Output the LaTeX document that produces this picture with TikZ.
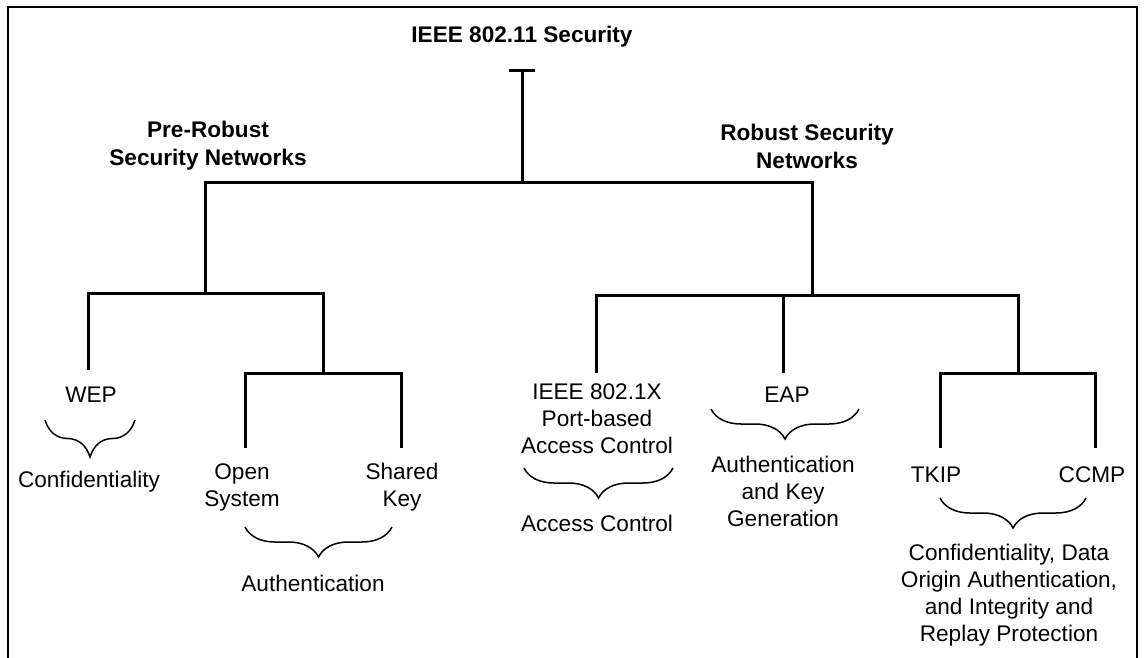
\documentclass[tikz,border=0pt]{standalone}
\usepackage{fontspec}
\setmainfont{Liberation Sans}
\usetikzlibrary{decorations.pathreplacing}
\begin{document}
\begin{tikzpicture}[x=0.5pt,y=-0.5pt,
    tree/.style={line width=1.5pt},
    brc/.style={decorate,decoration={brace,mirror,amplitude=#1},line width=0.75pt},
    brc/.default=15pt,
    lbl/.style={inner sep=0pt,align=center,font=\fontsize{11.3}{13.5}\selectfont},
    hdr/.style={lbl,font=\fontsize{11.3}{14}\selectfont\bfseries}]
      \useasboundingbox (0,0) rectangle (1145,658);
      \draw[line width=1pt] (8,658) -- (8,7) -- (1137,7) -- (1137,658);
      % headings
      \node[hdr] (title) at (522,37) {IEEE 802.11 Security};
      \node[hdr] (prersn) at (208,146) {Pre-Robust\\Security Networks};
      \node[hdr] (rsn) at (807,146) {Robust Security\\Networks};
      % leaves
      \node[lbl] (wep) at (91,395) {WEP};
      \node[lbl] (conf) at (89,482) {Confidentiality};
      \node[lbl] (open) at (242,487) {Open\\System};
      \node[lbl] (shared) at (402,487) {Shared\\Key};
      \node[lbl] (auth) at (313,583) {Authentication};
      \node[lbl] (dotx) at (597,419) {IEEE 802.1X\\Port-based\\Access Control};
      \node[lbl] (acc) at (597,523) {Access Control};
      \node[lbl] (eap) at (787,395) {EAP};
      \node[lbl] (akg) at (783,491) {Authentication\\and Key\\Generation};
      \node[lbl] (tkip) at (936,475) {TKIP};
      \node[lbl] (ccmp) at (1092,475) {CCMP};
      \node[lbl] (cia) at (1009,595) {Confidentiality, Data\\Origin Authentication,\\and Integrity and\\Replay Protection};
      % tree joints
      \coordinate (root) at (522,71);
      \coordinate (hub) at (522,182);
      \coordinate (preJ) at (205,293);
      \coordinate (rsnJ) at (812,295);
      \coordinate (wepT) at (88,370);
      \coordinate (authJ) at (323,373);
      \coordinate (openT) at (245,448);
      \coordinate (sharedT) at (401,448);
      \coordinate (dotT) at (596,373);
      \coordinate (eapT) at (783,373);
      \coordinate (cipJ) at (1018,373);
      \coordinate (tkipT) at (940,448);
      \coordinate (ccmpT) at (1095,448);
      \draw[tree] ([xshift=-6.5pt]root) -- ([xshift=6.5pt]root);
      \draw[tree] (root) -- (hub);
      \draw[tree] (preJ) |- (hub) -| (rsnJ);
      \draw[tree] (wepT) |- (preJ) -| (authJ);
      \draw[tree] (openT) |- (authJ) -| (sharedT);
      \draw[tree] (dotT) |- (rsnJ) -| (cipJ);
      \draw[tree] (eapT) -- (eapT |- rsnJ);
      \draw[tree] (tkipT) |- (cipJ) -| (ccmpT);
      % braces
      \draw[brc=18.5pt] (45,420) -- (135,420);
      \draw[brc] (245,527) -- (392,527);
      \draw[brc] (524,468) -- (673,468);
      \draw[brc] (711,409) -- (859,409);
      \draw[brc] (940,498) -- (1086,498);
    \end{tikzpicture}
\end{document}
